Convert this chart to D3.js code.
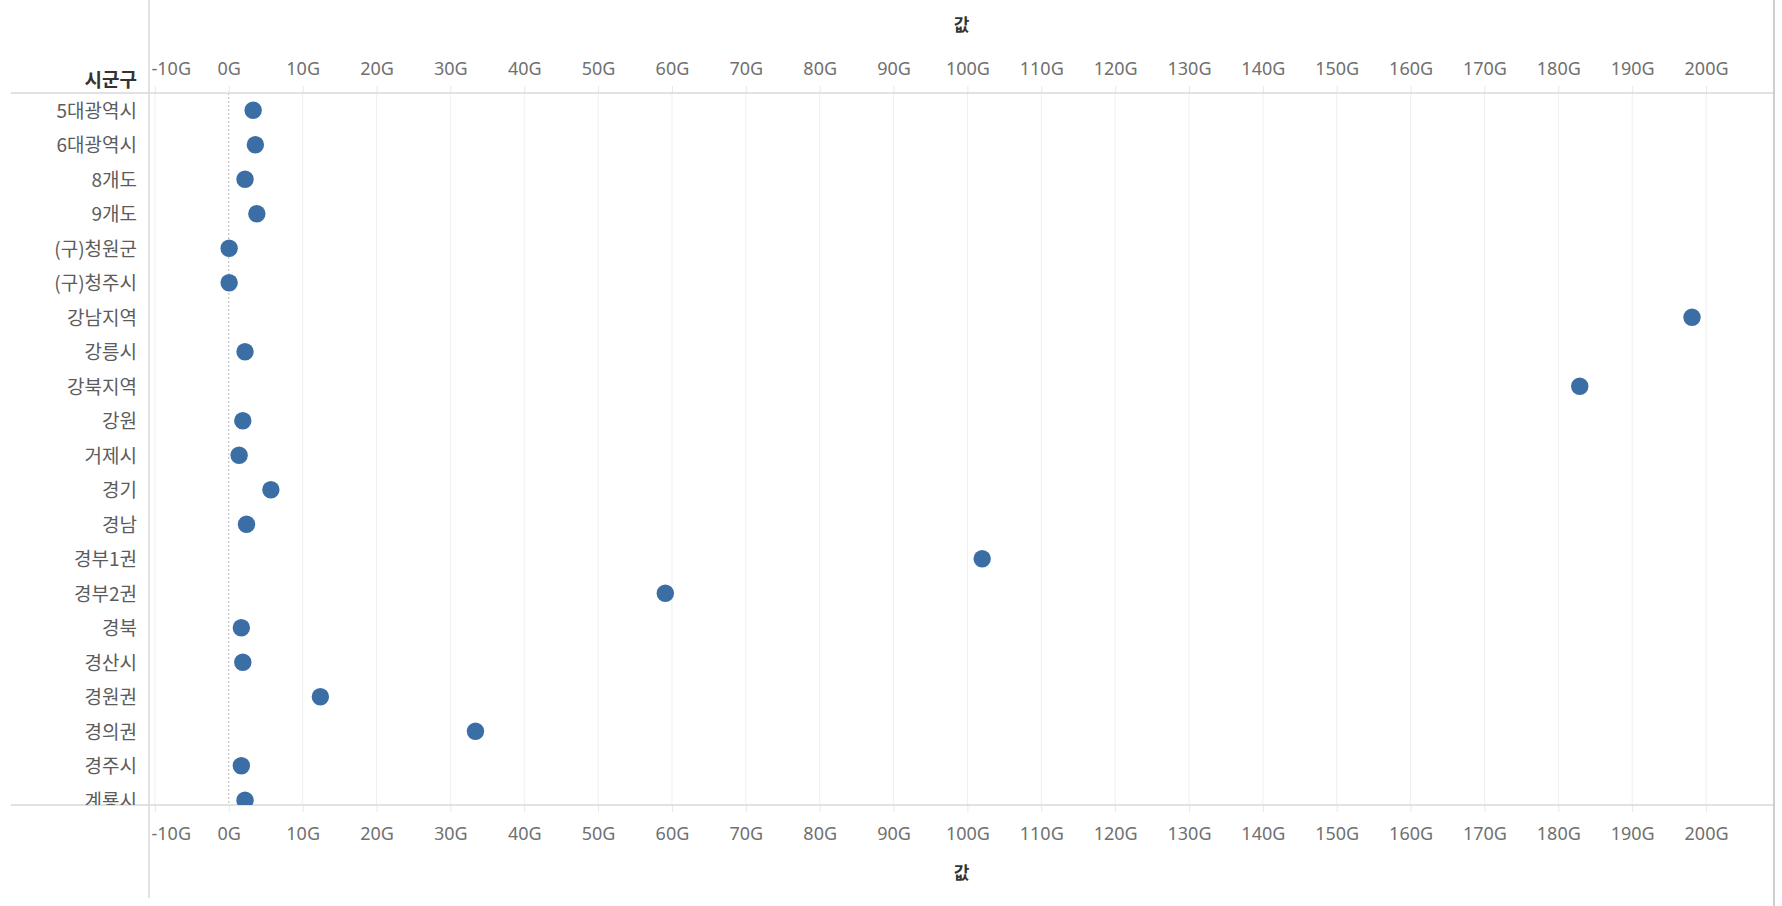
<!DOCTYPE html>
<html>
<head>
<meta charset="utf-8">
<script src="https://cdn.jsdelivr.net/npm/d3@7"></script>
<style>
  body { margin: 0; background: #fff; }
  svg { display: block; font-family: "Noto Sans CJK KR", "Noto Sans", sans-serif; }
</style>
</head>
<body>
<div id="chart"></div>
<script>
// rows shown in the view (list is scrolled, last row is cut)
const regions = ["5대광역시", "6대광역시", "8개도", "9개도", "(구)청원군", "(구)청주시", "강남지역", "강릉시",
  "강북지역", "강원", "거제시", "경기", "경남", "경부1권", "경부2권", "경북", "경산시", "경원권", "경의권", "경주시", "계룡시"];
// value in G
const values = [3.3, 3.6, 2.2, 3.8, 0.05, 0.05, 198.1, 2.2, 182.9, 1.9, 1.4, 5.7, 2.4, 102.0, 59.1, 1.7, 1.9, 12.4, 33.4, 1.7, 2.2];
const tickVals = [-10, 0, 10, 20, 30, 40, 50, 60, 70, 80, 90, 100, 110, 120, 130, 140, 150, 160, 170, 180, 190, 200];
const axisTitle = "값";
const rowTitle = "시군구";

let W = 1782, H = 906;
let padL = 149, padR = 1774, padT = 93, padB = 805;
let rowH = 34.5;

let svg = d3.select("#chart").append("svg")
  .attr("width", W).attr("height", H);

let x = d3.scaleLinear().domain([-10.8, 209.2]).range([padL, padR]);
let y = d3.scaleBand().domain(regions).range([padT, padT + rowH * regions.length]);

let data = regions.map((r, i) => ({ region: r, value: values[i] }));

svg.append("clipPath").attr("id", "plotClip")
  .append("rect").attr("x", padL).attr("y", padT).attr("width", padR - padL).attr("height", padB - padT);
svg.append("clipPath").attr("id", "labelClip")
  .append("rect").attr("x", 0).attr("y", padT).attr("width", padL).attr("height", padB - padT);

// gridlines
svg.append("g").selectAll("line").data(tickVals.filter(d => d !== 0)).enter()
  .append("line")
  .attr("x1", d => x(d)).attr("x2", d => x(d))
  .attr("y1", padT).attr("y2", padB)
  .attr("stroke", "#efefef").attr("stroke-width", 1);

// zero line
svg.append("line")
  .attr("x1", x(0)).attr("x2", x(0)).attr("y1", padT).attr("y2", padB)
  .attr("stroke", "#b8b8b8").attr("stroke-width", 1).attr("stroke-dasharray", "2,2");

let fmt = d => d + "G";

let styleAxis = (g) => {
  g.select(".domain").remove();
  g.selectAll(".tick line").attr("stroke", "#e8e8e8");
  g.selectAll(".tick text")
    .attr("fill", "#707070")
    .style("font-size", "18px")
    .style("font-family", "'Noto Sans', sans-serif");
  g.selectAll(".tick").filter(d => d === -10).select("text")
    .attr("text-anchor", "start")
    .attr("x", padL + 2 - x(-10));
};

let topAxis = svg.append("g").attr("transform", `translate(0,${padT})`)
  .call(d3.axisTop(x).tickValues(tickVals).tickFormat(fmt).tickSize(7).tickPadding(11));
styleAxis(topAxis);

let bottomAxis = svg.append("g").attr("transform", `translate(0,${padB})`)
  .call(d3.axisBottom(x).tickValues(tickVals).tickFormat(fmt).tickSize(7).tickPadding(15));
styleAxis(bottomAxis);

// frame lines
svg.append("line").attr("x1", 11).attr("x2", padR).attr("y1", padT).attr("y2", padT)
  .attr("stroke", "#d9d9d9").attr("stroke-width", 1.5);
svg.append("line").attr("x1", 11).attr("x2", padR).attr("y1", padB).attr("y2", padB)
  .attr("stroke", "#d9d9d9").attr("stroke-width", 1.5);
svg.append("line").attr("x1", padL).attr("x2", padL).attr("y1", 0).attr("y2", 898)
  .attr("stroke", "#d9d9d9").attr("stroke-width", 1.5);
svg.append("line").attr("x1", padR).attr("x2", padR).attr("y1", 0).attr("y2", H)
  .attr("stroke", "#cfcfcf").attr("stroke-width", 2);

// titles
svg.append("text").attr("x", (padL + padR) / 2).attr("y", 31)
  .attr("text-anchor", "middle").attr("fill", "#333").style("font-size", "17px").style("font-weight", "700")
  .text(axisTitle);
svg.append("text").attr("x", (padL + padR) / 2).attr("y", 879)
  .attr("text-anchor", "middle").attr("fill", "#333").style("font-size", "17px").style("font-weight", "700")
  .text(axisTitle);
svg.append("text").attr("x", 137).attr("y", 87)
  .attr("text-anchor", "end").attr("fill", "#333").style("font-size", "19px").style("font-weight", "700")
  .text(rowTitle);

// row labels
svg.append("g").attr("clip-path", "url(#labelClip)")
  .selectAll("text").data(regions).enter()
  .append("text")
  .attr("x", 137)
  .attr("y", d => y(d) + y.bandwidth() / 2 + 1)
  .attr("dy", "0.35em")
  .attr("text-anchor", "end")
  .attr("fill", "#5c5c5c")
  .style("font-size", "19px")
  .text(d => d);

// dots
svg.append("g").attr("clip-path", "url(#plotClip)")
  .selectAll("circle").data(data).enter()
  .append("circle")
  .attr("cx", d => x(d.value))
  .attr("cy", d => y(d.region) + y.bandwidth() / 2)
  .attr("r", 8.7)
  .attr("fill", "#3a6ea5");
</script>
</body>
</html>
